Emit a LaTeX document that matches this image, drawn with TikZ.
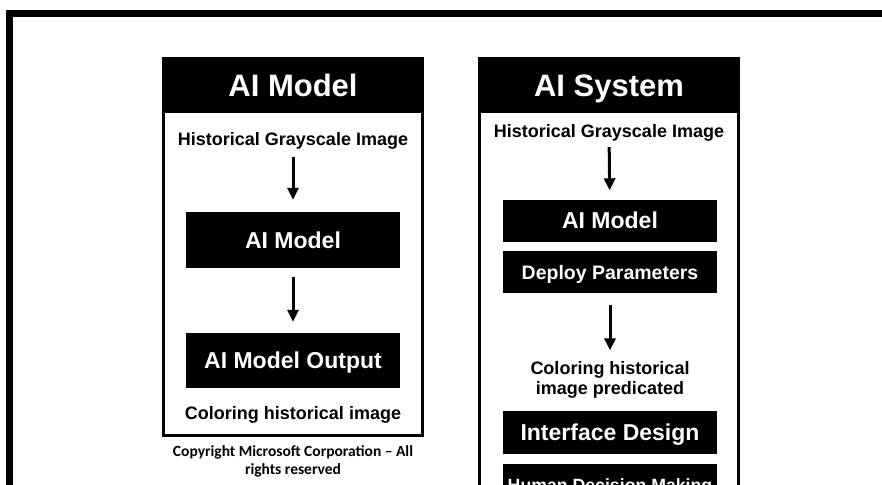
\documentclass[tikz,border=0pt]{standalone}
\usepackage{fontspec}
\setmainfont{Liberation Sans}
\newfontfamily\copyfont{Carlito}
\usetikzlibrary{positioning, arrows.meta}
\tikzset{
    header/.style={rectangle, fill=black, text=white, minimum width=262pt, minimum height=56pt, inner sep=0pt, text height=22.2pt, text depth=0pt, font=\fontsize{31}{36}\selectfont\bfseries},
    process/.style={rectangle, fill=black, text=white, minimum width=214pt, minimum height=42pt, inner sep=0pt, text height=16.5pt, text depth=0pt, font=\fontsize{23}{27}\selectfont\bfseries},
    smallprocess/.style={process, text height=12.7pt, font=\fontsize{17.7}{21}\selectfont\bfseries},
    caption/.style={inner sep=0pt, align=center, text height=12.9pt, text depth=0pt, font=\fontsize{18}{20}\selectfont\bfseries},
    panel/.style={draw=black, line width=2.7pt},
    arrow/.style={line width=3pt, -{Triangle[width=11pt,length=12pt]}}
}

\begin{document}
\begin{tikzpicture}[x=1pt, y=-1pt]

    \useasboundingbox (0,0) rectangle (882,484);
    \clip (0,0) rectangle (882,484);

    % Outer frame
    \draw [line width=7.3pt] (9.7,13.7) rectangle (900,520);

    % Left panel
    \draw [panel] (163.35,58.35) rectangle (422.65,435.65);
    \node (modeltitle) [header] at (293,85) {AI Model};
    \node (modelinput) [caption] at (293,138.7) {Historical Grayscale Image};
    \node (modelbox) [process, minimum height=56pt] at (293,240) {AI Model};
    \node (modeloutput) [process, minimum height=55pt] at (293,360.5) {AI Model Output};
    \node (modelresult) [caption] at (293,413.5) {Coloring historical image};
    \node (copyright) [inner sep=0pt, align=center, font=\copyfont\fontsize{15.5}{18}\selectfont\bfseries] at (293,461) {Copyright Microsoft Corporation – All\\rights reserved};

    % Right panel
    \draw [panel] (479.35,58.35) rectangle (738.65,520);
    \node (systitle) [header] at (609,85) {AI System};
    \node (sysinput) [caption] at (609,131) {Historical Grayscale Image};
    \node (sysmodel) [process] at (610,220.5) {AI Model};
    \node (sysdeploy) [smallprocess, font=\fontsize{19.5}{22}\selectfont\bfseries, text height=14pt] at (610,272) {Deploy Parameters};
    \node (sysresult) [inner sep=0pt, align=center, font=\fontsize{18}{20}\selectfont\bfseries] at (610,380) {Coloring historical\\image predicated};
    \node (sysinterface) [process, minimum height=43pt] at (610,432.5) {Interface Design};
    \node (sysdecision) [smallprocess, minimum height=43pt] at (610,485.5) {Human Decision Making};

    % Arrows
    \draw [arrow, shorten <=12pt, shorten >=12pt] (modelinput) -- (modelbox);
    \draw [arrow, shorten <=9pt, shorten >=11pt] (modelbox) -- (modeloutput);
    \draw [arrow, shorten <=9.5pt, shorten >=9pt] (sysinput) -- (sysmodel);
    \draw [arrow, shorten <=12pt, shorten >=11pt] (sysdeploy) -- (sysresult);

\end{tikzpicture}
\end{document}
